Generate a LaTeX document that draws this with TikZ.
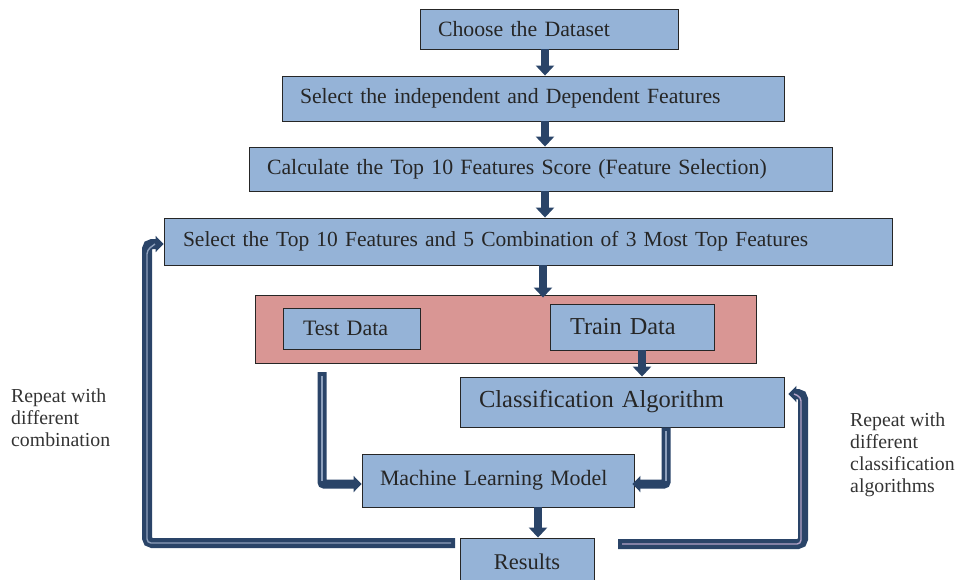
\documentclass[tikz,border=0pt]{standalone}
\usepackage{fontspec}
\setmainfont{Liberation Serif}
\usetikzlibrary{arrows.meta}
\definecolor{boxblue}{HTML}{95B3D7}
\definecolor{pinkc}{HTML}{D99694}
\definecolor{arrowc}{HTML}{2A4468}
\definecolor{innerc}{HTML}{8EA0BC}
\definecolor{lavc}{HTML}{B3A2C7}
\tikzset{
  box/.style={draw=black!85, fill=boxblue, line width=0.9pt, inner xsep=18pt, inner ysep=0pt, align=left, text=black!85},
  blk/.style={draw=arrowc, line width=8pt, -{Triangle[width=18pt,length=10pt]}},
  loopline/.style={draw=arrowc, line width=10pt, rounded corners=5pt, -{Triangle[width=16pt,length=8pt]}},
  innerline/.style={line width=1.4pt, rounded corners=4pt},
  note/.style={align=left, anchor=north west, inner sep=0pt, text=black!80}
}
\begin{document}
\begin{tikzpicture}[x=1pt,y=-1pt]
\useasboundingbox (0,0) rectangle (957,579);
\clip (0,0) rectangle (957,579);
% boxes
\node[box, text width=222pt, minimum height=40pt, font=\fontsize{21.8}{24}\selectfont] (choose) at (549,29) {Choose the Dataset};
\node[box, text width=466pt, minimum height=45pt, font=\fontsize{21.7}{24}\selectfont] (indep) at (533,98.5) {Select the independent and Dependent Features};
\node[box, text width=547pt, minimum height=44pt, font=\fontsize{21.8}{24}\selectfont] (calc) at (540.5,169) {Calculate the Top 10 Features Score (Feature Selection)};
\node[box, text width=690pt, inner xsep=19pt, minimum height=47pt, font=\fontsize{21.5}{24}\selectfont] (sel) at (528,241.5) {Select the Top 10 Features and 5 Combination of 3 Most Top Features};
\node[draw=black!85, fill=pinkc, line width=0.9pt, minimum width=501pt, minimum height=68pt, inner sep=0pt] (split) at (505.5,329) {};
\node[box, text width=97pt, inner xsep=20pt, minimum height=41pt, font=\fontsize{22}{24}\selectfont] (test) at (351.5,328.5) {Test Data};
\node[box, text width=124pt, inner xsep=20pt, minimum height=46pt, font=\fontsize{24.3}{26}\selectfont] (train) at (632,327) {Train Data};
\node[box, text width=286pt, inner xsep=19pt, minimum height=50pt, font=\fontsize{24.5}{26}\selectfont] (cls) at (622,402) {Classification Algorithm};
\node[box, text width=236pt, minimum height=53pt, font=\fontsize{21.9}{24}\selectfont] (ml) at (498,480.5) {Machine Learning Model};
\node[box, align=center, text width=98pt, minimum height=48pt, font=\fontsize{22.5}{24}\selectfont] (res) at (527,562) {Results};
% straight block arrows
\coordinate (ax) at (545,0);
\coordinate (bx) at (543,0);
\draw[blk] (choose.south -| ax) -- (indep.north -| ax);
\draw[blk] (indep.south -| ax) -- (calc.north -| ax);
\draw[blk] (calc.south -| ax) -- (sel.north -| ax);
\draw[blk] (sel.south -| bx) -- ([yshift=-3pt]split.north -| bx);
\coordinate (tx) at (642,0);
\draw[blk] (train.south -| tx) -- (cls.north -| tx);
\coordinate (mx) at (538,0);
\draw[blk] (ml.south -| mx) -- (res.north -| mx);
% elbow connectors
\coordinate (t1) at (322,372);
\coordinate (t2) at (322,484);
\draw[loopline, line width=9pt, rounded corners=2pt] (t1) -- (t2) -- (ml.west |- t2);
\draw[innerline, draw=innerc, line width=1.2pt, rounded corners=2pt] (322,376) -- (322,481);
\coordinate (c1) at (666,427);
\coordinate (c2) at (666,484);
\draw[loopline, line width=9pt, rounded corners=2pt] (c1 |- cls.south) -- (c2) -- ([xshift=-2pt]ml.east |- c2);
\draw[innerline, draw=innerc, line width=1.2pt] (666,431) -- (666,481);
% feedback loops
\coordinate (l1) at (455,543);
\coordinate (l2) at (147,543);
\coordinate (l3) at (147,244);
\draw[loopline] (l1) -- (l2) -- (l3) -- (sel.west |- l3);
\draw[innerline, draw=innerc] (451,543) -- (147,543) -- (147,250) -- (155,244);
\coordinate (r1) at (618,544);
\coordinate (r2) at (803,544);
\coordinate (r3) at (803,394);
\draw[loopline] (r1) -- (r2) -- (r3) -- ([xshift=4pt]cls.east |- r3);
\draw[innerline, draw=lavc] (622,544) -- (801,544) -- (801,397) -- (794,394);
% notes
\node[note, font=\fontsize{19.8}{22}\selectfont] (n1) at (11,389) {Repeat with\\different\\combination};
\node[note, font=\fontsize{19.8}{22}\selectfont] (n2) at (850,413) {Repeat with\\different\\classification\\algorithms};
\end{tikzpicture}
\end{document}
